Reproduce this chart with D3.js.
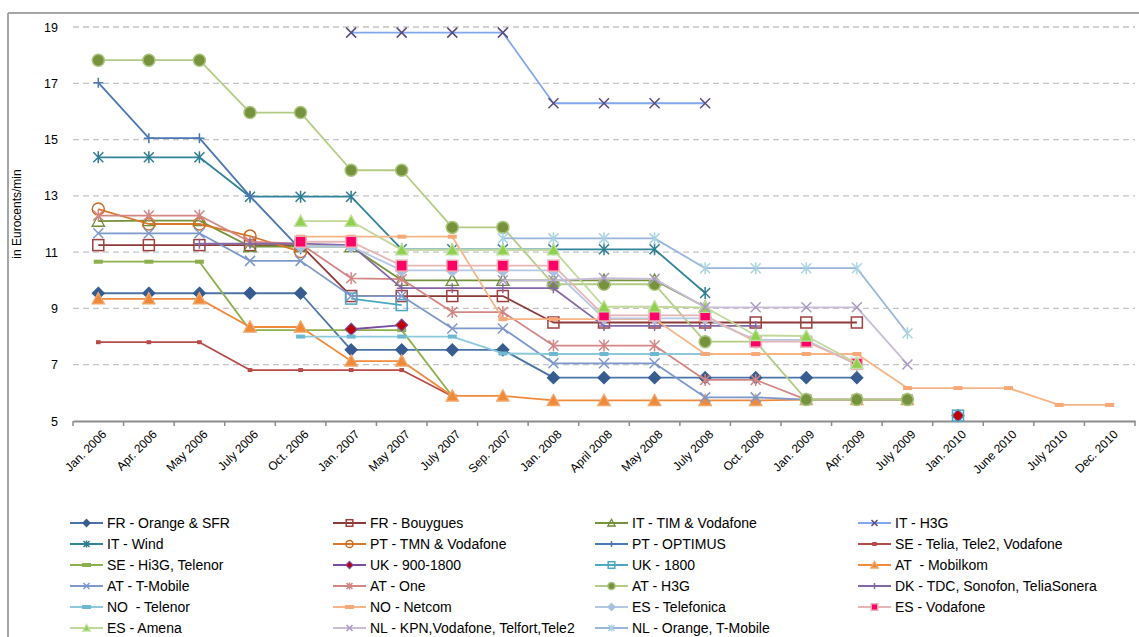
<!DOCTYPE html>
<html><head><meta charset="utf-8">
<script src="https://cdn.jsdelivr.net/npm/d3@7"></script>
<style>body{margin:0;background:#fff}svg{display:block;font-family:"Liberation Sans",Arial,sans-serif}</style>
</head><body><svg id="c" width="1139" height="637"></svg>
<script>
const N = null;
const categories = ["Jan. 2006","Apr. 2006","May 2006","July 2006","Oct. 2006","Jan. 2007","May 2007","July 2007","Sep. 2007","Jan. 2008","April 2008","May 2008","July 2008","Oct. 2008","Jan. 2009","Apr. 2009","July 2009","Jan. 2010","June 2010","July 2010","Dec. 2010"];
const yTicks = [5,7,9,11,13,15,17,19];
const yTitle = "in Eurocents/min";
const seriesNames = ["FR - Orange & SFR","FR - Bouygues","IT - TIM & Vodafone","IT - H3G",
  "IT - Wind","PT - TMN & Vodafone","PT - OPTIMUS","SE - Telia, Tele2, Vodafone",
  "SE - Hi3G, Telenor","UK - 900-1800","UK - 1800","AT  - Mobilkom",
  "AT - T-Mobile","AT - One","AT - H3G","DK - TDC, Sonofon, TeliaSonera",
  "NO  - Telenor","NO - Netcom","ES - Telefonica","ES - Vodafone",
  "ES - Amena","NL - KPN,Vodafone, Telfort,Tele2","NL - Orange, T-Mobile"];

const frOrange    = [9.54,9.54,9.54,9.54,9.54,7.53,7.53,7.53,7.53,6.54,6.54,6.54,6.54,6.54,6.54,6.54,N,N,N,N,N];
const frBouygues  = [11.25,11.25,11.25,11.25,11.25,9.44,9.44,9.44,9.44,8.5,8.5,8.5,8.5,8.5,8.5,8.5,N,N,N,N,N];
const itTim       = [12.1,12.12,12.12,11.2,11.2,11.2,10.0,10.0,10.0,10.0,10.0,10.0,9.05,N,N,N,N,N,N,N,N];
const itH3g       = [N,N,N,N,N,18.8,18.8,18.8,18.8,16.29,16.29,16.29,16.29,N,N,N,N,N,N,N,N];
const itWind      = [14.37,14.37,14.37,12.97,12.97,12.97,11.1,11.1,11.1,11.1,11.1,11.1,9.55,N,N,N,N,N,N,N,N];
const ptTmn       = [12.53,12.0,12.0,11.57,11.02,N,N,N,N,N,N,N,N,N,N,N,N,N,N,N,N];
const ptOptimus   = [17.02,15.05,15.05,12.99,11.1,N,N,N,N,N,N,N,N,N,N,N,N,N,N,N,N];
const seTelia     = [7.8,7.8,7.8,6.81,6.81,6.81,6.81,5.88,N,N,N,N,N,N,N,N,N,N,N,N,N];
const seHi3g      = [10.66,10.66,10.66,8.23,8.23,8.23,8.23,5.88,N,N,N,N,N,N,N,N,N,N,N,N,N];
const uk9001800   = [N,N,N,N,N,8.26,8.41,N,N,N,N,N,N,N,N,N,N,5.19,N,N,N];
const uk1800      = [N,N,N,N,N,9.35,9.12,N,N,N,N,N,N,N,N,N,N,5.19,N,N,N];
const atMobilkom  = [9.34,9.34,9.34,8.34,8.34,7.13,7.13,5.89,5.89,5.73,5.73,5.73,5.73,5.73,5.76,5.76,5.76,N,N,N,N];
const atTMobile   = [11.67,11.67,11.67,10.69,10.69,9.44,9.44,8.29,8.29,7.05,7.05,7.05,5.84,5.84,5.76,5.76,5.76,N,N,N,N];
const atOne       = [12.3,12.3,12.3,11.37,11.3,10.07,10.04,8.87,8.87,7.68,7.68,7.68,6.46,6.46,5.76,5.76,5.76,N,N,N,N];
const atH3g       = [17.82,17.82,17.82,15.96,15.96,13.91,13.91,11.88,11.88,9.86,9.86,9.86,7.82,7.82,5.76,5.76,5.76,N,N,N,N];
const dkAll       = [N,N,11.3,11.3,11.3,11.25,9.72,9.72,9.72,9.72,8.38,8.38,8.38,8.38,N,N,N,N,N,N,N];
const noTelenor   = [N,N,N,N,8.0,8.0,8.0,8.0,7.4,7.38,7.38,7.38,7.38,N,N,N,N,N,N,N,N];
const noNetcom    = [N,N,N,N,11.55,11.55,11.55,11.55,8.62,8.62,8.62,8.62,7.38,7.38,7.38,7.38,6.17,6.17,6.17,5.57,5.57];
const esTelefonica= [N,N,N,N,11.2,11.2,10.35,10.35,10.35,10.35,8.65,8.65,8.65,7.88,7.88,7.0,N,N,N,N,N];
const esVodafone  = [N,N,N,N,11.37,11.37,10.52,10.52,10.52,10.52,8.75,8.75,8.75,7.82,7.82,7.03,N,N,N,N,N];
const esAmena     = [N,N,N,N,12.1,12.1,11.08,11.08,11.08,11.08,9.06,9.06,9.04,8.04,8.02,7.05,N,N,N,N,N];
const nlKpn       = [N,N,N,N,N,N,N,N,10.0,10.0,10.08,10.05,9.04,9.04,9.04,9.04,7.01,N,N,N,N];
const nlOrange    = [N,N,N,N,N,N,N,N,11.49,11.49,11.49,11.49,10.43,10.43,10.43,10.43,8.12,N,N,N,N];

const seriesValues = [frOrange,frBouygues,itTim,itH3g,itWind,ptTmn,ptOptimus,seTelia,seHi3g,uk9001800,uk1800,
  atMobilkom,atTMobile,atOne,atH3g,dkAll,noTelenor,noNetcom,esTelefonica,esVodafone,esAmena,nlKpn,nlOrange];

const seriesStyles = [
  {line:"#4A74A8", m:"diamond", fill:"#365C90", stroke:"#365C90"},
  {line:"#8C3A38", m:"square", fill:"none", stroke:"#9E403E"},
  {line:"#74933A", m:"triangle", fill:"none", stroke:"#6E8B35"},
  {line:"#80A8EE", m:"x", fill:"none", stroke:"#5B4A7E"},
  {line:"#32849B", m:"star", fill:"none", stroke:"#2E7D93"},
  {line:"#D9782B", m:"circle", fill:"none", stroke:"#CC6C22"},
  {line:"#4A78B5", m:"plus", fill:"none", stroke:"#4A78B5"},
  {line:"#B84A47", m:"smallsq", fill:"#B84A47", stroke:"#B84A47"},
  {line:"#8DB04C", m:"dash", fill:"#8DB04C", stroke:"#8DB04C"},
  {line:"#7A4BA0", m:"diamond", fill:"#C00000", stroke:"#7A4BA0"},
  {line:"#4BA8C2", m:"square", fill:"none", stroke:"#4BA8C2"},
  {line:"#F08A3C", m:"triangle", fill:"#EE8A3A", stroke:"#F4A66A"},
  {line:"#7D98CB", m:"x", fill:"none", stroke:"#7D98CB"},
  {line:"#D38684", m:"star", fill:"none", stroke:"#D38684"},
  {line:"#B3CC85", m:"circle", fill:"#76923C", stroke:"#A9C47C"},
  {line:"#8467A6", m:"plus", fill:"none", stroke:"#8467A6"},
  {line:"#8CC9DA", m:"dash", fill:"#6DB9D2", stroke:"#6DB9D2"},
  {line:"#F7B485", m:"dash", fill:"#F7A877", stroke:"#F7A877"},
  {line:"#B4C7E3", m:"diamond", fill:"#A9C0E0", stroke:"#A9C0E0"},
  {line:"#E5B6B5", m:"square", fill:"#FF0066", stroke:"#E8B2B5"},
  {line:"#C2D89B", m:"triangle", fill:"#8FD04E", stroke:"#C2E0A0"},
  {line:"#C8BCD9", m:"x", fill:"none", stroke:"#AA98C4"},
  {line:"#98B5DA", m:"star", fill:"none", stroke:"#A9D5E3"}
];

const svg = d3.select("#c");
const x = d3.scaleBand().domain(categories).range([73,1135]);
const y = d3.scaleLinear().domain([5,19]).range([421,27]);
const cx = c => x(c) + x.bandwidth()/2;

// frame
svg.append("line").attr("x1",8).attr("x2",1139).attr("y1",13).attr("y2",13).attr("stroke","#A6A6A6").attr("stroke-width",2);
svg.append("line").attr("x1",8).attr("x2",8).attr("y1",13).attr("y2",637).attr("stroke","#A6A6A6").attr("stroke-width",2);

// gridlines
svg.append("g").selectAll("line").data(yTicks.filter(t=>t>5)).join("line")
  .attr("x1",73).attr("x2",1135).attr("y1",d=>y(d)).attr("y2",d=>y(d))
  .attr("stroke","#C4C4C4").attr("stroke-width",1.3).attr("stroke-dasharray","6,4");

// y axis labels
const ya = svg.append("g").attr("transform","translate(73,0)")
  .call(d3.axisLeft(y).tickValues(yTicks).tickSize(0).tickPadding(15).tickFormat(d3.format("d")));
ya.select(".domain").remove();
ya.selectAll("text").attr("font-size",12.5).attr("fill","#000").attr("font-family","Liberation Sans, Arial, sans-serif");

svg.append("text").attr("transform","translate(21,214) rotate(-90)").attr("text-anchor","middle")
  .attr("font-size",12).text(yTitle);

// x axis
const xa = svg.append("g").attr("transform","translate(0,421)").call(d3.axisBottom(x).tickSize(0).tickFormat(""));
xa.select(".domain").attr("stroke","#8C8C8C").attr("stroke-width",2);
svg.append("g").selectAll("line").data(categories.concat([null])).join("line")
  .attr("x1",(d,i)=> d===null ? 1135 : x(d)).attr("x2",(d,i)=> d===null ? 1135 : x(d))
  .attr("y1",421).attr("y2",426).attr("stroke","#8C8C8C").attr("stroke-width",1.5);
svg.append("g").selectAll("text").data(categories).join("text")
  .attr("transform",d=>`translate(${cx(d)+6},${432}) rotate(-45)`)
  .attr("text-anchor","end").attr("dy","0.35em").attr("font-size",12).text(d=>d);

// marker drawing
function drawMarker(g, type, st, size) {
  const s = size;
  switch(type){
    case "diamond": return g.append("path").attr("d",`M0,${-s*1.15}L${s*1.15},0L0,${s*1.15}L${-s*1.15},0Z`).attr("fill",st.fill).attr("stroke",st.stroke).attr("stroke-width",1.2);
    case "square": return g.append("rect").attr("x",-s).attr("y",-s).attr("width",2*s).attr("height",2*s).attr("fill",st.fill).attr("stroke",st.stroke).attr("stroke-width",1.5);
    case "smallsq": return g.append("rect").attr("x",-2.3).attr("y",-2).attr("width",4.6).attr("height",4).attr("fill",st.fill);
    case "triangle": return g.append("path").attr("d",`M0,${-s*1.1}L${s*1.1},${s*0.9}L${-s*1.1},${s*0.9}Z`).attr("fill",st.fill).attr("stroke",st.stroke).attr("stroke-width",1.3);
    case "circle": return g.append("circle").attr("r",s).attr("fill",st.fill).attr("stroke",st.stroke).attr("stroke-width",1.5);
    case "x": return g.append("path").attr("d",`M${-s},${-s}L${s},${s}M${-s},${s}L${s},${-s}`).attr("stroke",st.stroke).attr("stroke-width",1.5).attr("fill","none");
    case "star": return g.append("path").attr("d",`M${-s},${-s}L${s},${s}M${-s},${s}L${s},${-s}M0,${-s*1.2}L0,${s*1.2}`).attr("stroke",st.stroke).attr("stroke-width",1.5).attr("fill","none");
    case "plus": return g.append("path").attr("d",`M${-s},0L${s},0M0,${-s}L0,${s}`).attr("stroke",st.stroke).attr("stroke-width",1.5).attr("fill","none");
    case "dash": return g.append("rect").attr("x",-4.5).attr("y",-2).attr("width",9).attr("height",4).attr("fill",st.fill);
  }
}
const mSize = {diamond:5.2,square:5.5,triangle:5.6,circle:6,x:5,star:5,plus:5,dash:4,smallsq:2};

const line = d3.line().defined(d=>d.v!==null).x(d=>cx(d.c)).y(d=>y(d.v));
const plot = svg.append("g");
seriesValues.forEach((vals,si)=>{
  const st = seriesStyles[si];
  const pts = categories.map((c,i)=>({c, v: vals[i]}));
  const g = plot.append("g");
  g.append("path").datum(pts).attr("d",line).attr("fill","none").attr("stroke",st.line).attr("stroke-width",1.8).attr("stroke-linejoin","round");
  pts.filter(p=>p.v!==null).forEach(p=>{
    const mg = g.append("g").attr("transform",`translate(${cx(p.c)},${y(p.v)})`);
    drawMarker(mg, st.m, st, mSize[st.m]);
  });
});

// legend
const colX = [70,333,595,858];
const rowY0 = 523, rowH = 21;
const lg = svg.append("g");
seriesNames.forEach((name,i)=>{
  const col = i%4, row = Math.floor(i/4);
  const st = seriesStyles[i];
  const gx = colX[col], gy = rowY0 + row*rowH;
  const g = lg.append("g").attr("transform",`translate(${gx},${gy})`);
  g.append("line").attr("x1",0).attr("x2",33).attr("y1",0).attr("y2",0).attr("stroke",st.line).attr("stroke-width",1.8);
  const mg = g.append("g").attr("transform","translate(16.5,0)");
  drawMarker(mg, st.m, st, mSize[st.m]*0.6);
  g.append("text").attr("x",37).attr("y",0).attr("dy","0.35em").attr("font-size",14).attr("xml:space","preserve").text(name);
});
</script></body></html>
